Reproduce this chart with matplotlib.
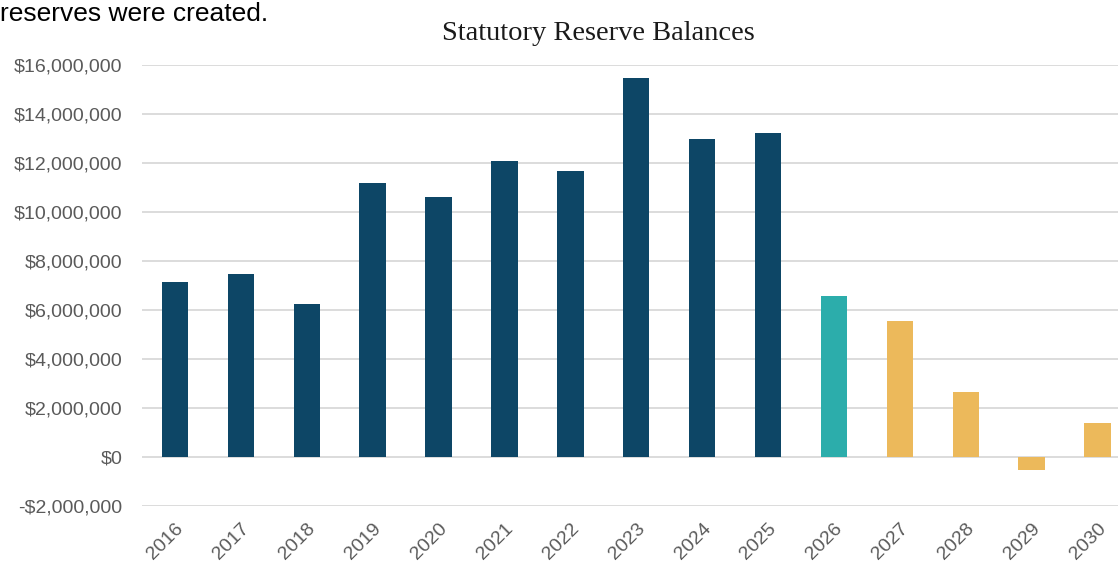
import matplotlib.pyplot as plt
from matplotlib.ticker import FuncFormatter

# Reserve balances by year (dollars)
years = ['2016', '2017', '2018', '2019', '2020', '2021', '2022', '2023',
         '2024', '2025', '2026', '2027', '2028', '2029', '2030']
balances = [7140000, 7470000, 6240000, 11180000, 10620000, 12080000,
            11670000, 15470000, 12980000, 13220000, 6570000, 5550000,
            2670000, -530000, 1370000]
# actual / current / projected
periods = ['actual'] * 10 + ['current'] + ['projected'] * 4

period_colors = {'actual': '#0d4666', 'current': '#2cadab', 'projected': '#ecb95b'}
colors = [period_colors[p] for p in periods]

fig = plt.figure(figsize=(11.18, 5.66), dpi=100)
ax = fig.add_axes([142 / 1118, 1 - 506 / 566, 1 - 142 / 1118, (506 - 65) / 566])

x = list(range(len(years)))
ax.bar(x, balances, width=0.4, color=colors, zorder=3)

ax.set_ylim(-2000000, 16000000)
ax.set_yticks(range(-2000000, 16000001, 2000000))
ax.yaxis.set_major_formatter(FuncFormatter(
    lambda v, pos: f'-${abs(v):,.0f}' if v < 0 else f'${v:,.0f}'))
ax.set_xlim(-0.5, 14.31)
ax.set_xticks(x)
ax.set_xticklabels(years, rotation=45, ha='right', rotation_mode='anchor')

ax.grid(axis='y', color='#d9d9d9', linewidth=1.3, zorder=0)
for s in ax.spines.values():
    s.set_visible(False)
ax.tick_params(axis='both', length=0, colors='#5a5a5a', labelsize=14)
ax.tick_params(axis='y', pad=14)
ax.tick_params(axis='x', pad=10)
for lab in ax.get_xticklabels() + ax.get_yticklabels():
    lab.set_family('Liberation Sans')

fig.text(598 / 1118, 1 - 33 / 566, 'Statutory Reserve Balances', ha='center',
         va='center', fontsize=20.5, family='Liberation Serif', color='#1a1a1a')
fig.text(0.0, 1 - 21 / 566, 'reserves were created.', ha='left', va='baseline',
         fontsize=19, family='Liberation Sans', color='black')

fig.savefig('out.png', dpi=100)
